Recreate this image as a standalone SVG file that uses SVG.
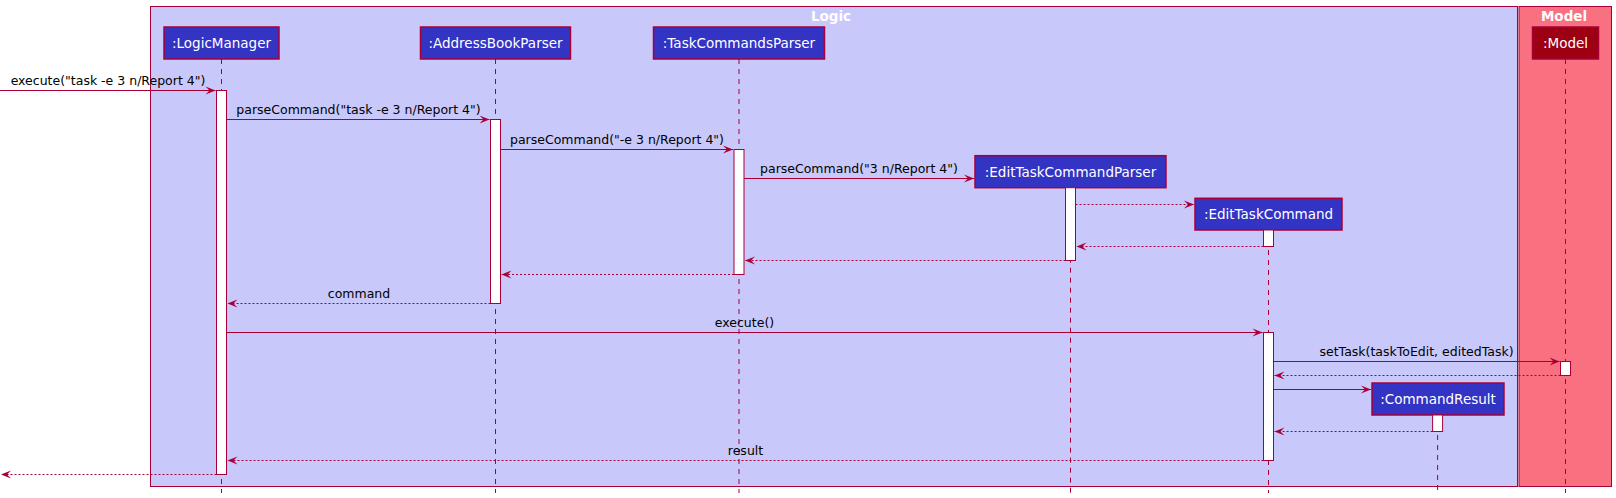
<svg xmlns="http://www.w3.org/2000/svg" width="1616" height="498" viewBox="0 0 1616 498">
<style>
.frame{stroke:#A80036;stroke-width:1}
.logicbg{fill:#C8C8FA}
.modelbg{fill:#F97181}
.ftitle{font-family:"DejaVu Sans",sans-serif;font-weight:bold;font-size:13.5px;fill:#FFFFFF;text-anchor:middle}
.part{fill:#3333C4;stroke:#A80036;stroke-width:1.5}
.partm{fill:#9D0012;stroke:#A80036;stroke-width:1.5}
.ptext{font-family:"DejaVu Sans",sans-serif;font-size:13.5px;fill:#FFFFFF;text-anchor:middle}
.life{stroke:#A80036;stroke-width:1;stroke-dasharray:5,5;fill:none}
.act{fill:#FFFFFF;stroke:#A80036;stroke-width:1}
.msg{stroke:#A80036;stroke-width:1;fill:none;marker-end:url(#arr)}
.ret{stroke:#A80036;stroke-width:1;fill:none;stroke-dasharray:2,2;marker-end:url(#arr)}
.mtext{font-family:"DejaVu Sans",sans-serif;font-size:12.5px;fill:#000000;text-anchor:middle}
</style>
<defs>
<marker id="arr" markerUnits="userSpaceOnUse" markerWidth="11" markerHeight="9" refX="10" refY="4" orient="auto" overflow="visible">
<path d="M0,0 L10,4 L0,8 L4,4 Z" fill="#A80036"/>
</marker>
</defs>
<rect width="1616" height="498" fill="#FFFFFF"/>
<g id="frame-logic">
<rect class="frame logicbg" x="150.5" y="6.5" width="1367" height="480"/>
<text class="ftitle" x="831" y="20.5">Logic</text>
</g>
<g id="frame-model">
<rect class="frame modelbg" x="1519" y="6.5" width="92.5" height="480"/>
<text class="ftitle" x="1564" y="20.5">Model</text>
</g>
<g id="lifelines">
<line class="life" x1="221.5" y1="59" x2="221.5" y2="493"/>
<line class="life" x1="495.5" y1="59" x2="495.5" y2="493"/>
<line class="life" x1="739" y1="59" x2="739" y2="493"/>
<line class="life" x1="1070.5" y1="187.7" x2="1070.5" y2="493"/>
<line class="life" x1="1268.5" y1="230" x2="1268.5" y2="493"/>
<line class="life" x1="1437.6" y1="415" x2="1437.6" y2="493"/>
<line class="life" x1="1565.5" y1="59" x2="1565.5" y2="493"/>
</g>
<g id="LogicManager">
<rect class="part" x="164" y="27" width="115" height="32"/>
<text class="ptext" x="221.5" y="47.8">:LogicManager</text>
<rect class="act" x="216.5" y="90.5" width="10" height="384"/>
</g>
<g id="AddressBookParser">
<rect class="part" x="420.5" y="27" width="150" height="32"/>
<text class="ptext" x="495.5" y="47.8">:AddressBookParser</text>
<rect class="act" x="490.5" y="119.5" width="10" height="184"/>
</g>
<g id="TaskCommandsParser">
<rect class="part" x="653.5" y="27" width="171" height="32"/>
<text class="ptext" x="739" y="47.8">:TaskCommandsParser</text>
<rect class="act" x="734" y="149.5" width="10" height="125"/>
</g>
<g id="EditTaskCommandParser">
<rect class="part" x="975" y="155.7" width="191" height="32"/>
<text class="ptext" x="1070.5" y="176.5">:EditTaskCommandParser</text>
<rect class="act" x="1065.5" y="187.7" width="10" height="72.8"/>
</g>
<g id="EditTaskCommand">
<rect class="part" x="1195" y="198.3" width="147" height="31.7"/>
<text class="ptext" x="1268.5" y="219">:EditTaskCommand</text>
<rect class="act" x="1263.5" y="230" width="10" height="16.5"/>
<rect class="act" x="1263.5" y="332.5" width="10" height="128"/>
</g>
<g id="CommandResult">
<rect class="part" x="1372" y="383" width="132" height="32"/>
<text class="ptext" x="1438" y="403.8">:CommandResult</text>
<rect class="act" x="1432.6" y="415" width="10" height="16.5"/>
</g>
<g id="Model">
<rect class="partm" x="1532.5" y="27" width="66" height="32"/>
<text class="ptext" x="1565.5" y="47.8">:Model</text>
<rect class="act" x="1560.5" y="361.5" width="10" height="14"/>
</g>
<g id="connectors">
<line class="msg" x1="0" y1="90.5" x2="215.5" y2="90.5"/>
<text class="mtext" x="108" y="85">execute("task -e 3 n/Report 4")</text>
<line class="msg" x1="226.5" y1="119.5" x2="489.5" y2="119.5"/>
<text class="mtext" x="358.5" y="114">parseCommand("task -e 3 n/Report 4")</text>
<line class="msg" x1="500.5" y1="149.5" x2="733" y2="149.5"/>
<text class="mtext" x="617" y="144">parseCommand("-e 3 n/Report 4")</text>
<line class="msg" x1="744" y1="178.5" x2="974" y2="178.5"/>
<text class="mtext" x="859" y="173">parseCommand("3 n/Report 4")</text>
<line class="ret" x1="1075.5" y1="204.5" x2="1194" y2="204.5"/>
<line class="ret" x1="1263.5" y1="246.5" x2="1076.5" y2="246.5"/>
<line class="ret" x1="1065.5" y1="260.5" x2="745" y2="260.5"/>
<line class="ret" x1="734" y1="274.5" x2="501.5" y2="274.5"/>
<line class="ret" x1="490.5" y1="303.5" x2="227.5" y2="303.5"/>
<text class="mtext" x="359" y="298">command</text>
<line class="msg" x1="226.5" y1="332.5" x2="1262.5" y2="332.5"/>
<text class="mtext" x="744.5" y="327">execute()</text>
<line class="msg" x1="1273.5" y1="361.5" x2="1559.5" y2="361.5"/>
<text class="mtext" x="1416.5" y="356">setTask(taskToEdit, editedTask)</text>
<line class="ret" x1="1560.5" y1="375.5" x2="1274.5" y2="375.5"/>
<line class="msg" x1="1273.5" y1="389.5" x2="1371" y2="389.5"/>
<line class="ret" x1="1432.6" y1="431.5" x2="1274.5" y2="431.5"/>
<line class="ret" x1="1263.5" y1="460.5" x2="227.5" y2="460.5"/>
<text class="mtext" x="745.5" y="455">result</text>
<line class="ret" x1="216.5" y1="474.5" x2="1" y2="474.5"/>
</g>
</svg>
